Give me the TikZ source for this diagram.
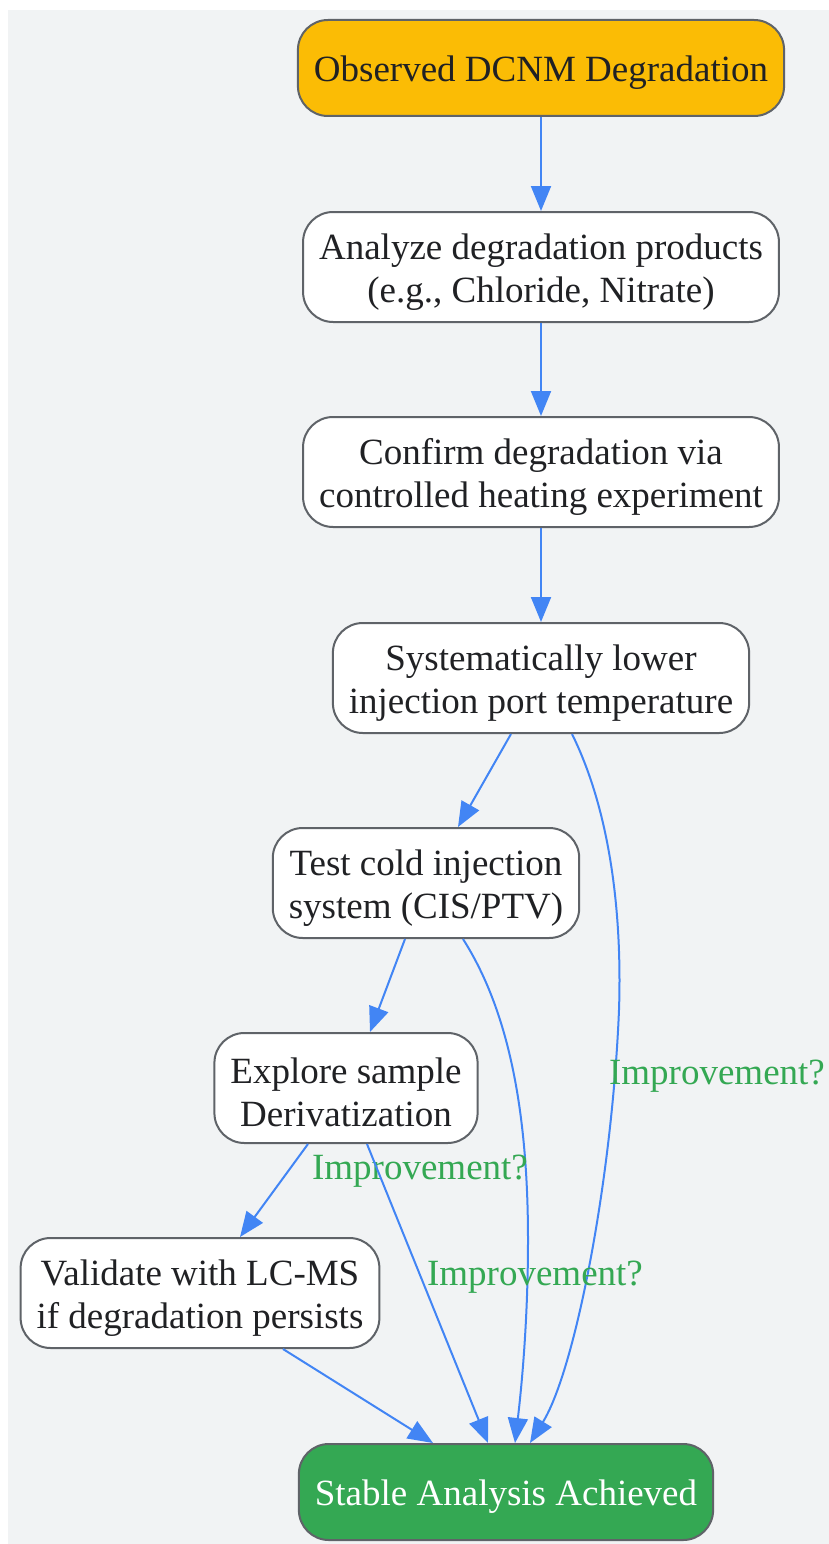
\documentclass[tikz,border=0pt]{standalone}
\usepackage{fontspec}
\setmainfont{Liberation Serif}
\usetikzlibrary{arrows.meta}
\definecolor{bggray}{HTML}{F1F3F4}
\definecolor{edgegray}{HTML}{5F6368}
\definecolor{txtdark}{HTML}{202124}
\definecolor{flowblue}{HTML}{4285F4}
\definecolor{okgreen}{HTML}{34A853}
\definecolor{startyellow}{HTML}{FBBC05}
\newcommand{\topgap}{\rule{0pt}{35pt}}
\tikzset{
	box/.style={draw=edgegray, line width=2pt, fill=white, rounded corners=30pt, align=center,
		inner xsep=16pt, inner ysep=0pt, minimum height=110pt, text=txtdark,
		font=\fontsize{37}{43}\selectfont},
	flow/.style={draw=flowblue, line width=2pt, -{Triangle[length=25pt,width=20pt]}},
	lbl/.style={text=okgreen, inner sep=0pt, font=\fontsize{37}{43}\selectfont}
}
\begin{document}
\begin{tikzpicture}[x=1pt,y=-1pt]
		\useasboundingbox (0,0) rectangle (829,1544);
		\fill[bggray] (8,10) rectangle (829,1544);

		\node[box, fill=startyellow, minimum height=96pt] (obs) at (541,68){\topgap Observed DCNM Degradation};
		\node[box] (analyze) at (541,267){\topgap Analyze degradation products\\(e.g., Chloride, Nitrate)};
		\node[box] (confirm) at (541,472){\topgap Confirm degradation via\\controlled heating experiment};
		\node[box] (lower) at (541,678){\topgap Systematically lower\\injection port temperature};
		\node[box] (cold) at (426,883){\topgap Test cold injection\\system (CIS/PTV)};
		\node[box] (deriv) at (346,1088){\topgap Explore sample\\Derivatization};
		\node[box] (lcms) at (200,1293){\topgap Validate with LC-MS\\if degradation persists};
		\node[box, fill=okgreen, text=white, minimum height=96pt] (stable) at (506,1492){\topgap Stable Analysis Achieved};

		\draw[flow] (obs) -- (analyze);
		\draw[flow] (analyze) -- (confirm);
		\draw[flow] (confirm) -- (lower);

		\draw[flow] ([xshift=-30pt]lower.south) -- ([xshift=32pt]cold.north);
		\draw[flow] ([xshift=-21pt]cold.south) -- ([xshift=24pt]deriv.north);
		\draw[flow] ([xshift=-38pt]deriv.south) -- ([xshift=40pt]lcms.north);
		\draw[flow] ([xshift=83pt]lcms.south) -- ([xshift=-73pt]stable.north);

		\draw[flow] ([xshift=31pt]lower.south) .. controls (612,815) and (622,920) .. (619,1010)
			.. controls (612,1180) and (575,1370) .. ([xshift=24pt]stable.north);
		\node[lbl] (imp1) at (717,1076){Improvement?};

		\draw[flow] ([xshift=37pt]cold.south) .. controls (505,1005) and (528,1100) .. (528,1240)
			.. controls (528,1330) and (520,1400) .. ([xshift=9pt]stable.north);
		\node[lbl] (imp2) at (420,1171){Improvement?};

		\draw[flow] ([xshift=21pt]deriv.south) -- ([xshift=-18pt]stable.north);
		\node[lbl] (imp3) at (535,1277){Improvement?};
	\end{tikzpicture}
\end{document}
